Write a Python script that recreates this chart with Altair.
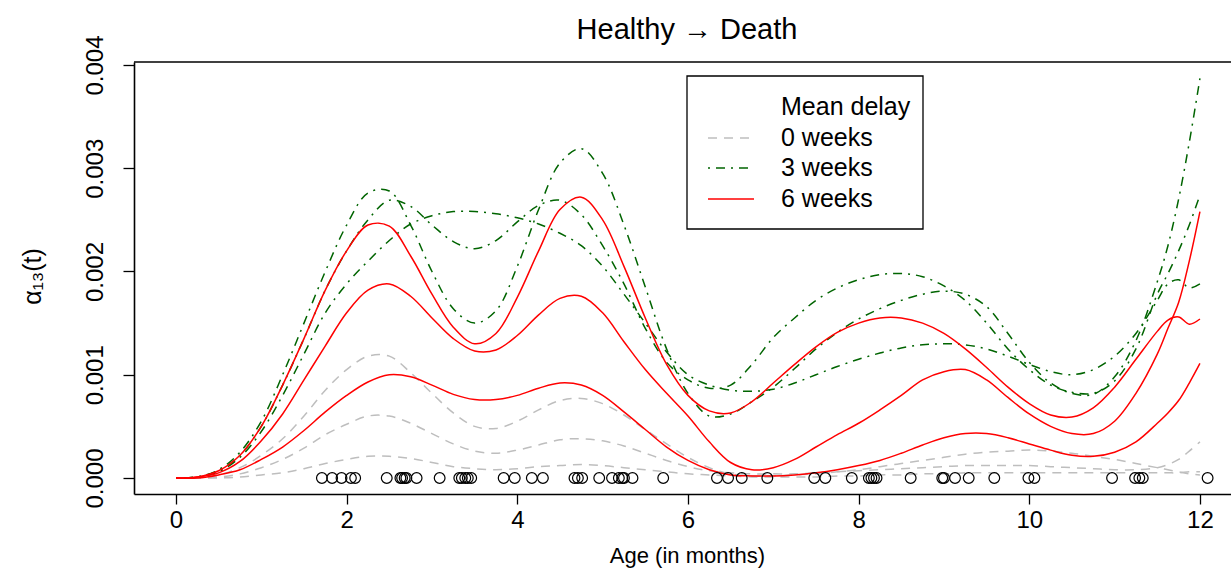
import altair as alt
import pandas as pd

FONT = "Liberation Sans"

# Age grid (months) on which the hazard estimates are tabulated
ages = [0.0, 0.25, 0.5, 0.75, 1.0, 1.25, 1.5, 1.75, 2.0, 2.25,
        2.5, 2.75, 3.0, 3.25, 3.5, 3.75, 4.0, 4.25, 4.5, 4.75,
        5.0, 5.25, 5.5, 5.75, 6.0, 6.25, 6.5, 6.75, 7.0, 7.25,
        7.5, 7.75, 8.0, 8.25, 8.5, 8.75, 9.0, 9.25, 9.5, 9.75,
        10.0, 10.25, 10.5, 10.75, 11.0, 11.25, 11.5, 11.625, 11.75, 11.875,
        12.0]

# Healthy -> Death hazard estimates, in units of 1e-3
delay0_a = [0, 0.0, 0.03, 0.1, 0.22, 0.38, 0.6, 0.85, 1.05, 1.18,
            1.18, 1.02, 0.82, 0.63, 0.5, 0.48, 0.55, 0.66, 0.75, 0.77,
            0.72, 0.61, 0.47, 0.33, 0.2, 0.1, 0.04, 0.02, 0.02, 0.03,
            0.04, 0.06, 0.08, 0.11, 0.14, 0.17, 0.2, 0.23, 0.25, 0.26,
            0.27, 0.26, 0.24, 0.21, 0.18, 0.14, 0.1, 0.08, 0.06, 0.04,
            0.03]
delay0_b = [0, 0.0, 0.01, 0.04, 0.1, 0.18, 0.29, 0.42, 0.52, 0.6,
            0.6, 0.53, 0.43, 0.33, 0.26, 0.24, 0.27, 0.32, 0.37, 0.38,
            0.36, 0.31, 0.24, 0.17, 0.11, 0.07, 0.05, 0.04, 0.04, 0.04,
            0.05, 0.06, 0.07, 0.08, 0.09, 0.10, 0.11, 0.12, 0.12, 0.12,
            0.12, 0.11, 0.10, 0.09, 0.08, 0.08, 0.1, 0.13, 0.18, 0.26,
            0.35]
delay0_c = [0, 0.0, 0.0, 0.01, 0.03, 0.05, 0.09, 0.14, 0.18, 0.21,
            0.21, 0.19, 0.15, 0.11, 0.09, 0.08, 0.09, 0.11, 0.12, 0.13,
            0.12, 0.1, 0.08, 0.06, 0.04, 0.03, 0.02, 0.01, 0.01, 0.01,
            0.01, 0.02, 0.02, 0.03, 0.03, 0.04, 0.04, 0.05, 0.05, 0.05,
            0.05, 0.05, 0.05, 0.05, 0.05, 0.05, 0.05, 0.05, 0.05, 0.06,
            0.06]

delay3_a = [0, 0.01, 0.08, 0.25, 0.55, 1.0, 1.5, 2.0, 2.45, 2.76,
            2.78, 2.45, 2.0, 1.64, 1.50, 1.62, 2.05, 2.6, 3.05, 3.19,
            2.95, 2.45, 1.85, 1.25, 0.82, 0.60, 0.62, 0.74, 0.88, 1.06,
            1.25, 1.41, 1.54, 1.64, 1.72, 1.78, 1.81, 1.78, 1.66, 1.40,
            1.12, 0.92, 0.82, 0.81, 0.98, 1.33, 1.9, 2.25, 2.7, 3.25,
            3.87]
delay3_b = [0, 0.01, 0.07, 0.22, 0.5, 0.9, 1.35, 1.82, 2.2, 2.5,
            2.69, 2.63, 2.45, 2.29, 2.22, 2.3, 2.48, 2.64, 2.69, 2.55,
            2.25, 1.88, 1.45, 1.12, 0.95, 0.87, 0.9, 1.1, 1.36, 1.55,
            1.72, 1.84, 1.92, 1.97, 1.98, 1.95, 1.86, 1.72, 1.5, 1.25,
            1.05, 0.9, 0.83, 0.82, 0.94, 1.25, 1.78, 1.98, 2.2, 2.45,
            2.74]
delay3_c = [0, 0.01, 0.06, 0.2, 0.45, 0.8, 1.2, 1.6, 1.88, 2.1,
            2.3, 2.46, 2.54, 2.58, 2.58, 2.56, 2.52, 2.46, 2.37, 2.25,
            2.05, 1.78, 1.5, 1.22, 1.0, 0.9, 0.85, 0.84, 0.86, 0.92,
            1.0, 1.08, 1.15, 1.21, 1.26, 1.29, 1.30, 1.29, 1.25, 1.18,
            1.1, 1.03, 1.0, 1.05, 1.18, 1.4, 1.72, 1.88, 1.92, 1.84,
            1.88]

delay6_a = [0, 0.01, 0.07, 0.22, 0.5, 0.9, 1.35, 1.82, 2.2, 2.45,
            2.44, 2.15, 1.78, 1.46, 1.30, 1.40, 1.75, 2.2, 2.6, 2.72,
            2.5, 2.05, 1.55, 1.1, 0.8, 0.65, 0.63, 0.74, 0.92, 1.1,
            1.27, 1.41, 1.5, 1.55, 1.55, 1.5, 1.4, 1.25, 1.07, 0.88,
            0.72, 0.61, 0.59, 0.68, 0.88, 1.15, 1.42, 1.53, 1.56, 1.49,
            1.54]
delay6_b = [0, 0.01, 0.05, 0.16, 0.36, 0.62, 0.95, 1.28, 1.6, 1.82,
            1.88, 1.76, 1.55, 1.35, 1.23, 1.24, 1.38, 1.58, 1.74, 1.76,
            1.6, 1.32, 1.05, 0.82, 0.6, 0.35, 0.15, 0.08, 0.1, 0.18,
            0.3, 0.42, 0.53, 0.66, 0.8, 0.95, 1.03, 1.05, 0.95, 0.78,
            0.62, 0.5, 0.43, 0.43, 0.55, 0.82, 1.2, 1.45, 1.7, 2.1,
            2.58]
delay6_c = [0, 0.0, 0.03, 0.08, 0.18, 0.3, 0.46, 0.64, 0.8, 0.93,
            1.0, 0.98, 0.9, 0.81, 0.76, 0.76, 0.8, 0.87, 0.92, 0.9,
            0.8, 0.64, 0.47, 0.3, 0.17, 0.08, 0.03, 0.02, 0.02, 0.03,
            0.05, 0.08, 0.12, 0.17, 0.24, 0.32, 0.39, 0.43, 0.43, 0.39,
            0.33, 0.27, 0.22, 0.21, 0.25, 0.35, 0.53, 0.63, 0.75, 0.92,
            1.11]

# Observed ages at death (months)
event_ages = [1.71, 1.83, 1.94, 2.05, 2.10, 2.47, 2.63, 2.65, 2.68, 2.70,
              2.82, 3.09, 3.32, 3.35, 3.39, 3.42, 3.46, 3.84, 3.97, 4.17,
              4.30, 4.67, 4.71, 4.76, 4.96, 5.11, 5.19, 5.23, 5.25, 5.35,
              5.71, 6.34, 6.47, 6.63, 6.93, 7.48, 7.61, 7.92, 8.12, 8.15,
              8.18, 8.21, 8.61, 8.98, 9.00, 9.13, 9.29, 9.59, 9.99, 10.06,
              10.97, 11.24, 11.29, 11.33, 12.09]

delay_labels = ["0 weeks", "3 weeks", "6 weeks"]
series = [
    ("0 weeks", "a", delay0_a), ("0 weeks", "b", delay0_b), ("0 weeks", "c", delay0_c),
    ("3 weeks", "a", delay3_a), ("3 weeks", "b", delay3_b), ("3 weeks", "c", delay3_c),
    ("6 weeks", "a", delay6_a), ("6 weeks", "b", delay6_b), ("6 weeks", "c", delay6_c),
]

rows = []
for delay, tag, vals in series:
    for a, v in zip(ages, vals):
        rows.append({"age": a, "hazard": v / 1000.0, "delay": delay, "curve": delay + tag})
curves = pd.DataFrame(rows)
events = pd.DataFrame({"age": event_ages, "hazard": [0.0] * len(event_ages)})
one = pd.DataFrame({"k": [0]})

# ---- layout (pixels) ----
PAD_L, PAD_T, PAD_R, PAD_B = 134, 62, 0, 77
W, H = 1231 - PAD_L - PAD_R, 571 - PAD_T - PAD_B

x_scale = alt.Scale(domain=[-0.492, 12.364], nice=False, zero=False)
y_scale = alt.Scale(domain=[-0.000155, 0.004029], nice=False, zero=False)

x_axis = alt.Axis(
    values=[0, 2, 4, 6, 8, 10, 12], format="d", grid=False,
    title="Age (in months)", titleFont=FONT, titleFontSize=22, titleFontWeight="normal",
    titleColor="black", titleX=553, titleY=61, titleAlign="center", titleBaseline="middle",
    labelFont=FONT, labelFontSize=24, labelColor="black", labelPadding=4,
    labelFlush=False, labelOverlap=False,
    tickSize=10, tickColor="black", tickWidth=1.3,
    domainColor="black", domainWidth=1.6,
)
y_axis = alt.Axis(
    values=[0, 0.001, 0.002, 0.003, 0.004], format=".3f", grid=False,
    title="α₁₃(t)", titleFont=FONT, titleFontSize=25, titleFontWeight="normal",
    titleColor="black", titleAngle=270, titleX=-102, titleY=214,
    titleAlign="center", titleBaseline="middle",
    labelFont=FONT, labelFontSize=24, labelColor="black", labelAngle=270,
    labelAlign="center", labelBaseline="alphabetic", labelPadding=21,
    labelFlush=False, labelOverlap=False,
    tickSize=11, tickColor="black", tickWidth=1.3,
    domainColor="black", domainWidth=1.6,
)

X = alt.X("age:Q", scale=x_scale, axis=x_axis)
Y = alt.Y("hazard:Q", scale=y_scale, axis=y_axis)

styles = {
    "0 weeks": dict(color="#BEBEBE", strokeDash=[9, 7]),
    "3 weeks": dict(color="#006400", strokeDash=[2, 6, 9, 6]),
    "6 weeks": dict(color="#FF0000"),
}


def curve_layer(delay):
    return alt.Chart(curves[curves["delay"] == delay]).mark_line(
        strokeWidth=1.5, interpolate="catmull-rom", **styles[delay]
    ).encode(x=X, y=Y, detail="curve:N")


points = alt.Chart(events).mark_point(
    shape="circle", filled=False, color="black", size=115, strokeWidth=1.2, opacity=1
).encode(x=X, y=Y)

top_frame = alt.Chart(one).mark_rule(color="black", strokeWidth=1.6).encode(
    x=alt.value(0), x2=alt.value(W), y=alt.value(0)
)

title = alt.Chart(one).mark_text(
    text="Healthy → Death", font=FONT, fontSize=29, align="center",
    baseline="alphabetic", color="black"
).encode(x=alt.value(553), y=alt.value(-23))

# ---- legend ----
LX0, LX1, LY0, LY1 = 553, 789, 14, 167
SAMPLE_X0, SAMPLE_X1, TEXT_X = 574, 620, 647
legend_box = alt.Chart(one).mark_rect(fill="white", stroke="black", strokeWidth=1.3).encode(
    x=alt.value(LX0), x2=alt.value(LX1), y=alt.value(LY0), y2=alt.value(LY1)
)
legend_layers = [legend_box,
                 alt.Chart(one).mark_text(text="Mean delay", font=FONT, fontSize=25, align="left",
                                          baseline="middle", color="black")
                 .encode(x=alt.value(TEXT_X), y=alt.value(45))]
for label, ypos in zip(delay_labels, [76, 106, 137]):
    legend_layers.append(
        alt.Chart(one).mark_rule(strokeWidth=1.5, **styles[label]).encode(
            x=alt.value(SAMPLE_X0), x2=alt.value(SAMPLE_X1), y=alt.value(ypos)
        )
    )
    legend_layers.append(
        alt.Chart(one).mark_text(text=label, font=FONT, fontSize=25, align="left",
                                 baseline="middle", color="black")
        .encode(x=alt.value(TEXT_X), y=alt.value(ypos))
    )

chart = alt.layer(
    curve_layer("0 weeks"), curve_layer("3 weeks"), curve_layer("6 weeks"),
    points, top_frame, title, *legend_layers
).properties(
    width=W, height=H,
    autosize=alt.AutoSizeParams(type="none"),
    padding={"left": PAD_L, "top": PAD_T, "right": PAD_R, "bottom": PAD_B},
    background="white",
).configure_view(stroke=None)

chart.save("out.html", embed_options={"renderer": "svg", "actions": False})
